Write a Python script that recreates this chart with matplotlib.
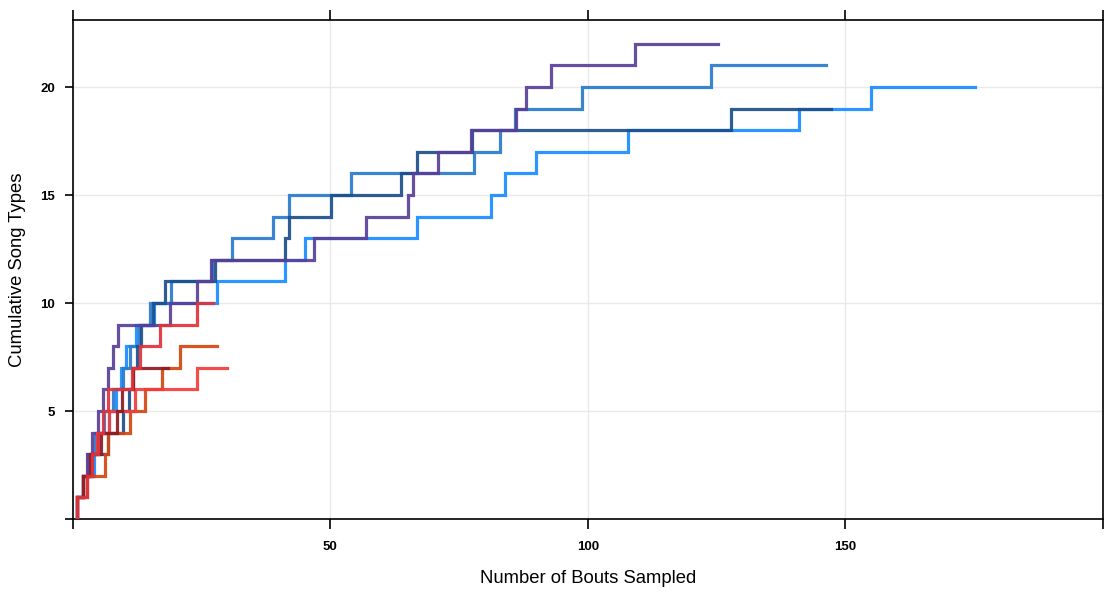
import matplotlib
matplotlib.use("Agg")
import matplotlib.pyplot as plt

plt.rcParams['font.family'] = ['Liberation Sans', 'DejaVu Sans']

# Bout numbers at which each bird's cumulative count of song types increases,
# and the bout number at which its sampling ends.
navy_steps = [0.8, 1.9, 3.8, 6.8, 9.8, 10.8, 11.6, 12.4, 13.2, 15.5, 17.9, 27.6,
              41.1, 41.9, 50.1, 63.7, 66.8, 77.5, 127.8]
navy_end = 147.3

medblue_steps = [0.8, 2.0, 3.0, 4.2, 6.0, 7.8, 9.8, 11.0, 12.8, 15.0, 19.0, 27.0,
                 30.8, 38.8, 41.9, 54.0, 77.9, 82.9, 85.8, 98.9, 124.0]
medblue_end = 146.3

brightblue_steps = [0.8, 2.0, 4.0, 5.0, 7.0, 8.4, 9.4, 10.4, 12.2, 15.8, 27.9, 41.1,
                    45.0, 66.8, 81.1, 84.0, 90.0, 107.8, 141.0, 155.0]
brightblue_end = 175.2

purple_steps = [0.8, 1.9, 2.8, 3.8, 4.8, 5.8, 6.8, 7.7, 8.7, 18.8, 24.0, 26.9,
                46.9, 57.0, 65.0, 66.0, 70.8, 77.3, 86.0, 88.0, 92.8, 109.1]
purple_end = 125.2

crimson_steps = [0.8, 2.7, 3.8, 4.8, 5.8, 6.9, 11.5, 13.0, 16.9, 24.0]
crimson_end = 27.2

orange_steps = [0.8, 2.7, 6.3, 6.8, 11.0, 13.9, 17.3, 20.7]
orange_end = 28.0

brightred_steps = [0.8, 2.0, 3.5, 4.7, 7.0, 12.0, 24.0]
brightred_end = 30.0

maroon_steps = [0.8, 1.9, 3.4, 5.5, 8.5, 9.5, 11.7]
maroon_end = 18.5

series = [
    (brightblue_steps, brightblue_end, '#1a8cff'),
    (medblue_steps, medblue_end, '#2a7acc'),
    (navy_steps, navy_end, '#1c4f8c'),
    (purple_steps, purple_end, '#593f98'),
    (orange_steps, orange_end, '#d2470f'),
    (brightred_steps, brightred_end, '#ef3e3e'),
    (maroon_steps, maroon_end, '#8c1c22'),
    (crimson_steps, crimson_end, '#e0333a'),
]

x_ticks = [0, 50, 100, 150, 200]
x_ticklabels = ['', '50', '100', '150', '']
y_ticks = [0, 5, 10, 15, 20]
y_ticklabels = ['', '5', '10', '15', '20']

fig = plt.figure(figsize=(11.05, 5.92), dpi=100)
ax = fig.add_axes([0.066, 0.1233, 0.932, 0.8427])

for steps, end, color in series:
    xs = [steps[0]] + list(steps) + [end]
    ys = [0] + list(range(1, len(steps) + 1)) + [len(steps)]
    ax.step(xs, ys, where='post', color=color, lw=2.3, alpha=0.92,
            solid_joinstyle='miter', zorder=3)

ax.set_xlim(0, 200)
ax.set_ylim(0, 23.1)

ax.set_xticks(x_ticks)
ax.set_xticklabels(x_ticklabels)
ax.set_yticks(y_ticks)
ax.set_yticklabels(y_ticklabels)
for lab in ax.get_xticklabels() + ax.get_yticklabels():
    lab.set_fontweight('bold')

ax.grid(True, color='#e9e9e9', lw=1.0, zorder=0)
ax.set_axisbelow(True)

for s in ax.spines.values():
    s.set_color('black')
    s.set_linewidth(1.2)

ax.tick_params(axis='x', which='both', direction='out', length=7, width=1.2,
               top=True, bottom=True, labelsize=9.5, pad=9, colors='black')
ax.tick_params(axis='y', which='both', direction='out', length=6, width=1.2,
               left=True, right=False, labelsize=9.5, pad=7, colors='black')

ax.set_xlabel('Number of Bouts Sampled', fontsize=13.3, labelpad=12)
ax.set_ylabel('Cumulative Song Types', fontsize=13.3, labelpad=10)

fig.savefig('out.png', dpi=100)
